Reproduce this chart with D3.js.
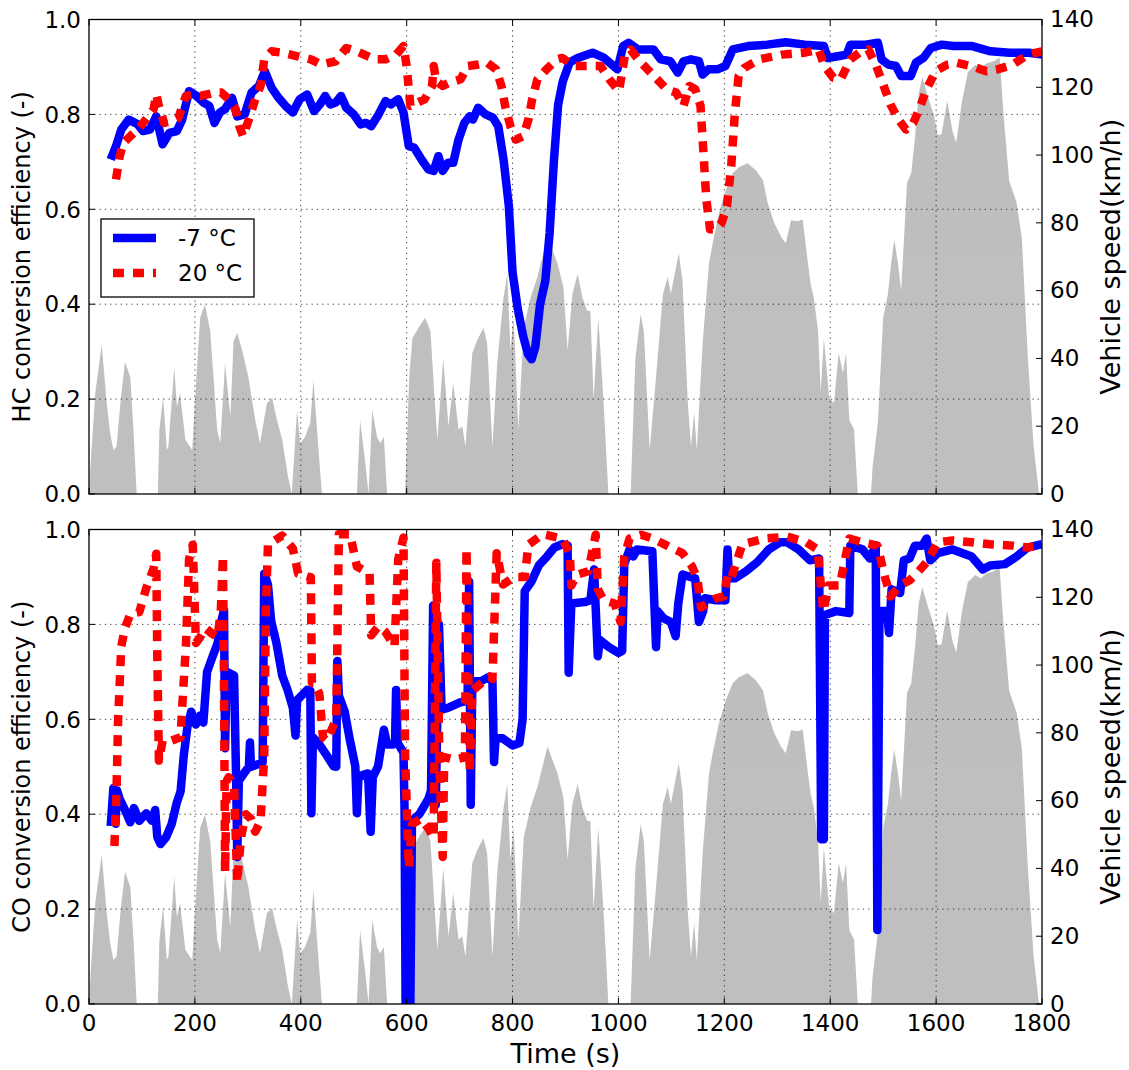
<!DOCTYPE html>
<html>
<head>
<meta charset="utf-8">
<script src="https://cdn.jsdelivr.net/npm/d3@7"></script>
<style>
  body { margin: 0; background: #fff; }
  svg { display: block; font-family: "DejaVu Sans", sans-serif; }
</style>
</head>
<body>
<div id="chart"></div>
<script>
// time axis ticks (s) and the two y axes
const timeTicks = [0, 200, 400, 600, 800, 1000, 1200, 1400, 1600, 1800];
const effTicks = [0.0, 0.2, 0.4, 0.6, 0.8, 1.0];
const speedTicks = [0, 20, 40, 60, 80, 100, 120, 140];
const seriesNames = ["-7 °C", "20 °C"];

// vehicle speed, [time s, km/h]
const speedKmh = [[0,0],[3,9],[12,30],[24,44],[34,26],[40,18],[46,13],[52,14],[60,28],[68,39],[78,34.5],[84,19],[90,0],
  [130,0],[133,19],[140,28.6],[147,13],[150,14],[161,37.5],[166,25.7],[172,29.7],[182,16],[195,13],[203,35],[210,52],[219,56],[229,48],[242,19],[248,15],[257,38.6],[267,22.7],[273,45],[280,47.5],[290,42],[301,34.5],[314,21.8],[323,15],[336,26.8],[346,28.3],[355,21.8],[365,16],[376,5],[383,0],[393,24.8],[399,15],[408,16.8],[418,21],[424,33.6],[433,14],[440,0],
  [506,0],[512,21.8],[522,9],[528,0],[535,24.8],[544,16.8],[550,15],[557,16.8],[563,0],
  [597,0],[605,35],[611,46],[626,50],[635,52],[645,48],[652,30],[658,16],[669,40],[679,20],[688,32.7],[698,19],[705,20],[711,14],[724,41.5],[733,45.4],[745,49],[752,44.5],[762,14],[771,38.6],[783,58],[790,65],[796,42.5],[802,52],[811,19],[821,49],[834,58],[847,64],[866,76],[885,68],[896,61],[904,42.5],[913,59],[923,65],[932,58],[941,54],[947,54],[953,28],[962,52],[972,27],[981,0],
  [1023,0],[1032,40],[1042,53],[1048,48],[1059,13],[1070,32.7],[1084,59],[1093,64],[1099,59],[1105,64],[1114,71],[1121,63],[1131,27],[1137,14],[1143,24],[1148,13],[1159,44.5],[1171,68],[1178,74],[1190,83],[1203,89.8],[1216,94.7],[1228,96.5],[1244,97.6],[1259,95.6],[1273,92.6],[1282,85.8],[1294,80],[1307,76],[1316,74],[1326,80.8],[1339,80.5],[1348,81],[1358,68],[1363,62],[1369,58],[1377,48],[1382,30],[1388,46],[1398,28.6],[1407,26.8],[1416,41.6],[1424,35.7],[1430,41.6],[1436,21.8],[1445,19],[1452,0],
  [1477,0],[1480,8],[1490,21],[1500,52],[1509,59],[1515,68],[1521,75],[1528,68],[1534,60],[1545,91.7],[1553,94.7],[1560,105],[1567,118],[1574,123],[1585,117],[1596,111.7],[1603,106],[1610,106],[1621,116],[1631,107],[1638,103.7],[1649,116],[1660,124.5],[1674,126.6],[1684,125.6],[1695,127],[1709,127.7],[1720,128.8],[1727,112.7],[1738,92.4],[1752,86],[1762,75.3],[1773,41],[1784,14.4],[1794,0.5],[1800,0]];

// HC conversion efficiency, [time s, -]
const hcMinus7 = [[41,0.705],[51,0.733],[61,0.768],[75,0.789],[92,0.779],[102,0.765],[115,0.768],[127,0.796],[139,0.737],[152,0.761],[166,0.765],[176,0.789],[189,0.849],[203,0.839],[216,0.825],[227,0.818],[237,0.782],[247,0.804],[257,0.811],[270,0.835],[280,0.796],[294,0.8],[307,0.846],[321,0.86],[332,0.891],[345,0.856],[358,0.835],[371,0.818],[385,0.804],[398,0.832],[412,0.842],[425,0.807],[436,0.821],[446,0.839],[456,0.821],[466,0.825],[476,0.839],[486,0.814],[500,0.8],[513,0.779],[523,0.782],[533,0.775],[547,0.8],[560,0.828],[570,0.821],[584,0.832],[594,0.804],[604,0.733],[614,0.73],[628,0.705],[641,0.684],[651,0.681],[660,0.712],[668,0.681],[678,0.698],[688,0.698],[698,0.747],[709,0.782],[719,0.796],[725,0.789],[735,0.814],[749,0.8],[763,0.793],[773,0.775],[783,0.705],[793,0.607],[800,0.467],[810,0.389],[820,0.333],[829,0.295],[836,0.284],[843,0.31],[852,0.4],[862,0.45],[870,0.55],[878,0.7],[886,0.82],[895,0.87],[908,0.91],[923,0.919],[951,0.93],[973,0.919],[998,0.895],[1009,0.944],[1019,0.951],[1037,0.937],[1066,0.937],[1080,0.916],[1098,0.912],[1112,0.888],[1123,0.912],[1137,0.916],[1152,0.912],[1159,0.884],[1170,0.895],[1187,0.895],[1202,0.902],[1216,0.937],[1245,0.944],[1281,0.947],[1316,0.952],[1352,0.947],[1388,0.944],[1395,0.919],[1417,0.923],[1431,0.926],[1438,0.947],[1467,0.947],[1490,0.951],[1497,0.916],[1510,0.905],[1524,0.902],[1534,0.881],[1552,0.881],[1562,0.909],[1576,0.919],[1590,0.94],[1611,0.947],[1633,0.944],[1668,0.944],[1703,0.933],[1739,0.93],[1775,0.93],[1800,0.926]];
const hc20 = [[51,0.663],[58,0.712],[65,0.74],[78,0.754],[95,0.772],[112,0.796],[122,0.811],[127,0.842],[132,0.818],[142,0.782],[156,0.786],[169,0.793],[183,0.839],[196,0.842],[210,0.839],[223,0.842],[237,0.846],[250,0.846],[264,0.832],[277,0.811],[284,0.775],[291,0.754],[304,0.796],[314,0.832],[324,0.86],[331,0.916],[345,0.933],[365,0.93],[392,0.923],[419,0.916],[439,0.905],[466,0.912],[486,0.94],[506,0.933],[540,0.916],[560,0.916],[580,0.926],[594,0.944],[600,0.902],[607,0.818],[621,0.825],[634,0.832],[648,0.86],[651,0.902],[656,0.87],[668,0.86],[681,0.867],[702,0.874],[715,0.902],[735,0.905],[752,0.909],[769,0.895],[779,0.86],[786,0.818],[796,0.775],[806,0.747],[820,0.754],[830,0.789],[837,0.832],[847,0.874],[864,0.895],[884,0.916],[894,0.919],[915,0.902],[944,0.902],[966,0.902],[983,0.874],[1001,0.849],[1012,0.923],[1023,0.937],[1037,0.916],[1055,0.895],[1073,0.874],[1091,0.853],[1109,0.846],[1123,0.818],[1134,0.86],[1145,0.853],[1155,0.818],[1159,0.747],[1166,0.621],[1173,0.558],[1184,0.558],[1195,0.572],[1205,0.607],[1213,0.691],[1220,0.804],[1227,0.881],[1238,0.898],[1266,0.916],[1309,0.926],[1352,0.93],[1378,0.937],[1389,0.902],[1406,0.877],[1420,0.874],[1438,0.916],[1455,0.93],[1472,0.937],[1487,0.902],[1501,0.86],[1515,0.818],[1529,0.789],[1543,0.768],[1557,0.782],[1568,0.811],[1582,0.853],[1599,0.891],[1621,0.905],[1639,0.909],[1666,0.902],[1695,0.891],[1716,0.895],[1745,0.905],[1773,0.926],[1800,0.933]];

// CO conversion efficiency, [time s, -]
const coMinus7 = [[41,0.375],[46,0.455],[50,0.38],[53,0.45],[58,0.432],[68,0.409],[78,0.383],[85,0.413],[95,0.386],[108,0.402],[119,0.386],[125,0.409],[129,0.352],[135,0.337],[146,0.352],[156,0.379],[166,0.425],[173,0.448],[179,0.524],[186,0.585],[193,0.616],[202,0.589],[210,0.608],[216,0.593],[223,0.7],[233,0.731],[243,0.761],[250,0.807],[255,0.83],[257,0.539],[260,0.7],[274,0.692],[278,0.47],[280,0.31],[283,0.47],[297,0.493],[302,0.5],[304,0.551],[306,0.5],[328,0.509],[331,0.907],[338,0.884],[344,0.807],[354,0.761],[365,0.692],[375,0.662],[385,0.624],[390,0.566],[393,0.64],[412,0.662],[418,0.66],[420,0.402],[423,0.562],[435,0.547],[449,0.524],[462,0.501],[467,0.5],[469,0.723],[472,0.65],[483,0.616],[493,0.555],[503,0.501],[506,0.402],[509,0.48],[527,0.486],[532,0.363],[536,0.478],[546,0.501],[557,0.578],[563,0.547],[574,0.547],[578,0.55],[580,0.662],[583,0.55],[594,0.53],[596,0.409],[598,0],[607,0],[610,0.386],[624,0.4],[641,0.432],[646,0.45],[650,0.84],[655,0.42],[661,0.8],[666,0.62],[680,0.625],[700,0.635],[715,0.64],[718,0.89],[721,0.42],[724,0.68],[740,0.68],[756,0.69],[762,0.68],[765,0.51],[768,0.56],[781,0.56],[800,0.545],[813,0.55],[819,0.6],[823,0.87],[836,0.891],[850,0.925],[865,0.943],[879,0.962],[894,0.969],[904,0.966],[906,0.698],[911,0.844],[936,0.847],[947,0.851],[954,0.916],[957,0.836],[961,0.733],[965,0.767],[982,0.752],[1000,0.74],[1007,0.744],[1011,0.927],[1021,0.958],[1028,0.943],[1035,0.958],[1064,0.954],[1071,0.752],[1074,0.828],[1085,0.813],[1099,0.805],[1108,0.775],[1113,0.844],[1121,0.905],[1145,0.897],[1152,0.805],[1160,0.828],[1163,0.855],[1184,0.851],[1202,0.851],[1206,0.958],[1209,0.897],[1220,0.897],[1241,0.912],[1262,0.931],[1284,0.958],[1305,0.973],[1319,0.973],[1340,0.958],[1362,0.935],[1379,0.939],[1383,0.347],[1388,0.347],[1390,0.82],[1411,0.828],[1436,0.824],[1438,0.966],[1461,0.958],[1475,0.939],[1486,0.966],[1489,0.156],[1493,0.828],[1507,0.828],[1511,0.782],[1516,0.874],[1532,0.866],[1539,0.935],[1550,0.939],[1560,0.966],[1574,0.966],[1582,0.981],[1589,0.935],[1603,0.95],[1631,0.958],[1667,0.943],[1688,0.916],[1702,0.924],[1730,0.927],[1752,0.943],[1773,0.962],[1800,0.969]];
const co20 = [[48,0.333],[52,0.45],[55,0.6],[61,0.754],[68,0.792],[78,0.822],[95,0.826],[108,0.876],[122,0.918],[127,0.949],[129,0.731],[132,0.513],[139,0.555],[156,0.555],[173,0.562],[176,0.626],[183,0.754],[189,0.937],[196,0.968],[202,0.761],[210,0.773],[220,0.792],[233,0.78],[243,0.773],[249,0.83],[253,0.945],[255,0.677],[257,0.279],[260,0.47],[264,0.478],[274,0.463],[280,0.256],[287,0.35],[296,0.4],[306,0.39],[314,0.363],[324,0.386],[331,0.524],[334,0.83],[338,0.968],[365,0.987],[385,0.96],[395,0.907],[419,0.899],[421,0.677],[425,0.677],[435,0.654],[442,0.562],[449,0.555],[467,0.6],[469,0.75],[472,0.99],[493,0.99],[506,0.922],[530,0.907],[533,0.777],[547,0.796],[560,0.784],[577,0.754],[584,0.937],[594,0.983],[597,0.524],[604,0.287],[610,0.379],[627,0.39],[641,0.37],[651,0.35],[656,0.93],[662,0.5],[668,0.31],[671,0.52],[690,0.515],[710,0.52],[713,0.96],[719,0.49],[724,0.66],[745,0.68],[758,0.69],[762,0.685],[770,0.95],[782,0.884],[803,0.9],[823,0.9],[830,0.968],[857,0.99],[894,0.981],[908,0.95],[911,0.882],[922,0.905],[943,0.912],[957,0.989],[961,0.874],[972,0.851],[993,0.844],[1004,0.805],[1011,0.943],[1021,0.981],[1043,0.989],[1064,0.981],[1092,0.966],[1121,0.95],[1138,0.924],[1149,0.897],[1156,0.836],[1167,0.844],[1184,0.855],[1199,0.859],[1206,0.905],[1213,0.897],[1234,0.969],[1277,0.981],[1319,0.985],[1355,0.973],[1376,0.958],[1387,0.828],[1397,0.882],[1418,0.882],[1436,0.981],[1461,0.973],[1489,0.966],[1504,0.897],[1514,0.859],[1532,0.882],[1550,0.893],[1567,0.912],[1582,0.931],[1603,0.973],[1631,0.977],[1702,0.969],[1745,0.966],[1773,0.962],[1800,0.969]];

const W = 1129, H = 1070;
const left = 89, right = 1042;
const blue = "#0000ff", red = "#ff0000", gray = "#bfbfbf";

const panels = [
  { top: 19.5, bottom: 494, label: "HC conversion efficiency (-)", cold: hcMinus7, warm: hc20, legend: true, xLabels: false },
  { top: 529.5, bottom: 1004, label: "CO conversion efficiency (-)", cold: coMinus7, warm: co20, legend: false, xLabels: true }
];

const svg = d3.select("#chart").append("svg")
  .attr("width", W).attr("height", H);

const x = d3.scaleLinear().domain([0, 1800]).range([left, right]);

panels.forEach((p, i) => {
  const yEff = d3.scaleLinear().domain([0, 1]).range([p.bottom, p.top]);
  const ySpeed = d3.scaleLinear().domain([0, 140]).range([p.bottom, p.top]);

  const clipId = "clip" + i;
  svg.append("clipPath").attr("id", clipId)
    .append("rect")
    .attr("x", left).attr("y", p.top)
    .attr("width", right - left).attr("height", p.bottom - p.top);

  const g = svg.append("g").attr("clip-path", `url(#${clipId})`);

  // speed as filled area on the right axis
  g.append("path")
    .datum(speedKmh)
    .attr("fill", gray)
    .attr("d", d3.area().x(d => x(d[0])).y0(p.bottom).y1(d => ySpeed(d[1])));

  // dotted grid
  const grid = g.append("g")
    .attr("stroke", "#000").attr("stroke-width", 0.9)
    .attr("stroke-dasharray", "1.3,4").attr("opacity", 0.8);
  grid.selectAll("line.v")
    .data(timeTicks.slice(1, -1))
    .join("line")
    .attr("x1", d => x(d)).attr("x2", d => x(d))
    .attr("y1", p.top).attr("y2", p.bottom);
  grid.selectAll("line.h")
    .data(effTicks.slice(1, -1))
    .join("line")
    .attr("class", "h")
    .attr("x1", left).attr("x2", right)
    .attr("y1", d => yEff(d)).attr("y2", d => yEff(d));

  const line = d3.line().x(d => x(d[0])).y(d => yEff(d[1]));

  g.append("path")
    .datum(p.cold)
    .attr("fill", "none").attr("stroke", blue)
    .attr("stroke-width", 8.5).attr("stroke-linejoin", "round")
    .attr("d", line);

  g.append("path")
    .datum(p.warm)
    .attr("fill", "none").attr("stroke", red)
    .attr("stroke-width", 8.5).attr("stroke-dasharray", "11,9")
    .attr("stroke-linejoin", "round")
    .attr("d", line);

  // frame
  svg.append("rect")
    .attr("x", left).attr("y", p.top)
    .attr("width", right - left).attr("height", p.bottom - p.top)
    .attr("fill", "none").attr("stroke", "#000").attr("stroke-width", 1.3);

  // inward ticks
  const ticks = svg.append("g").attr("stroke", "#000").attr("stroke-width", 1);
  timeTicks.forEach(t => {
    ticks.append("line").attr("x1", x(t)).attr("x2", x(t)).attr("y1", p.bottom).attr("y2", p.bottom - 6);
    ticks.append("line").attr("x1", x(t)).attr("x2", x(t)).attr("y1", p.top).attr("y2", p.top + 6);
  });
  effTicks.forEach(v => {
    ticks.append("line").attr("x1", left).attr("x2", left + 6).attr("y1", yEff(v)).attr("y2", yEff(v));
  });
  speedTicks.forEach(v => {
    ticks.append("line").attr("x1", right).attr("x2", right - 6).attr("y1", ySpeed(v)).attr("y2", ySpeed(v));
  });

  // tick labels
  svg.append("g").selectAll("text")
    .data(effTicks)
    .join("text")
    .attr("x", left - 8).attr("y", d => yEff(d))
    .attr("dy", "0.36em")
    .attr("text-anchor", "end")
    .attr("font-size", 23)
    .text(d3.format(".1f"));

  svg.append("g").selectAll("text")
    .data(speedTicks)
    .join("text")
    .attr("x", right + 8).attr("y", d => ySpeed(d))
    .attr("dy", "0.34em")
    .attr("font-size", 23)
    .text(d => d);

  if (p.xLabels) {
    svg.append("g").selectAll("text")
      .data(timeTicks)
      .join("text")
      .attr("x", d => x(d)).attr("y", p.bottom + 27)
      .attr("text-anchor", "middle")
      .attr("font-size", 23)
      .text(d => d);
    svg.append("text")
      .attr("x", (left + right) / 2).attr("y", p.bottom + 59)
      .attr("text-anchor", "middle")
      .attr("font-size", 27)
      .text("Time (s)");
  }

  const mid = (p.top + p.bottom) / 2;
  svg.append("text")
    .attr("transform", `translate(30,${mid}) rotate(-90)`)
    .attr("text-anchor", "middle")
    .attr("font-size", 24)
    .text(p.label);

  svg.append("text")
    .attr("transform", `translate(1120,${mid}) rotate(-90)`)
    .attr("text-anchor", "middle")
    .attr("font-size", 27)
    .text("Vehicle speed(km/h)");

  if (p.legend) {
    const lg = svg.append("g");
    lg.append("rect")
      .attr("x", 101).attr("y", 219).attr("width", 153).attr("height", 78)
      .attr("fill", "#fff").attr("stroke", "#000").attr("stroke-width", 1.3);
    const rows = [
      { name: seriesNames[0], color: blue, dash: null, y: 238 },
      { name: seriesNames[1], color: red, dash: "11,9", y: 273 }
    ];
    rows.forEach(r => {
      lg.append("line")
        .attr("x1", 113).attr("x2", 156).attr("y1", r.y).attr("y2", r.y)
        .attr("stroke", r.color).attr("stroke-width", 8.5)
        .attr("stroke-dasharray", r.dash);
      lg.append("text")
        .attr("x", 178).attr("y", r.y).attr("dy", "0.36em")
        .attr("font-size", 23)
        .text(r.name);
    });
  }
});
</script>
</body>
</html>
